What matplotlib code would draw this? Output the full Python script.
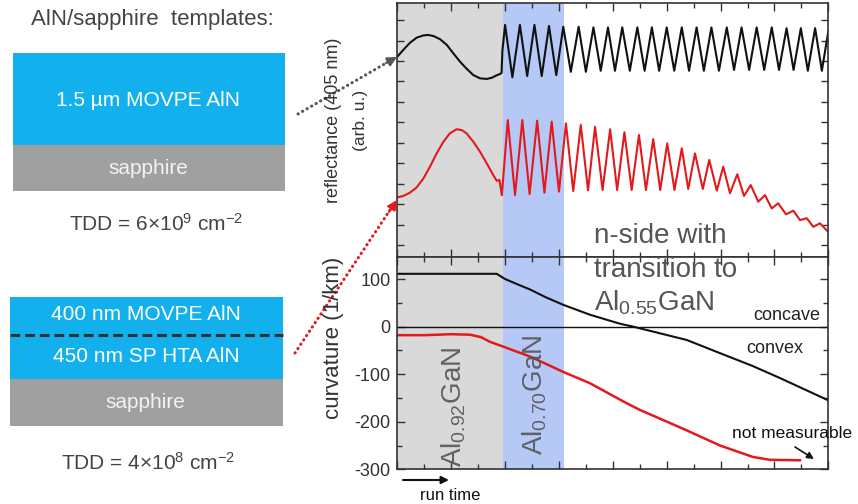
import matplotlib.pyplot as plt
from matplotlib.ticker import MultipleLocator
from matplotlib.patches import Rectangle

plt.rcParams['font.family'] = ['Liberation Sans', 'DejaVu Sans']
plt.rcParams['mathtext.fontset'] = 'custom'
plt.rcParams['mathtext.rm'] = 'Liberation Sans'
plt.rcParams['mathtext.it'] = 'Liberation Sans:italic'
plt.rcParams['mathtext.bf'] = 'Liberation Sans:bold'
plt.rcParams['axes.unicode_minus'] = False

# --- reflectance (405 nm), arb. u., x = run time (arb.) ---
# black: 1.5 um MOVPE AlN template
blk_start_x = [0, 0.22, 0.47, 0.72, 0.97, 1.15, 1.34, 1.59, 1.84, 2.08, 2.33, 2.58,
               2.82, 3.07, 3.32, 3.51, 3.69, 3.81, 3.87, 3.90]
blk_start_y = [9.21, 9.54, 9.89, 10.14, 10.25, 10.27, 10.22, 10.06, 9.78, 9.37, 8.96, 8.61,
               8.31, 8.15, 8.12, 8.18, 8.30, 8.36, 8.42, 9.50]
blk_peak_x = [4.00, 4.55, 5.09, 5.63, 6.16, 6.73, 7.28, 7.82, 8.35, 8.91, 9.45, 10.00,
              10.56, 11.11, 11.66, 12.23, 12.78, 13.34, 13.90, 14.45, 14.98, 15.51, 16.0]
blk_peak_y = [10.76, 10.76, 10.76, 10.71, 10.67, 10.67, 10.64, 10.64, 10.64, 10.64, 10.64, 10.64,
              10.64, 10.64, 10.64, 10.64, 10.64, 10.64, 10.64, 10.60, 10.60, 10.60, 10.45]
blk_trough_x = [4.27, 4.82, 5.36, 5.90, 6.44, 7.00, 7.55, 8.08, 8.63, 9.18, 9.72, 10.28,
                10.83, 11.38, 11.94, 12.50, 13.06, 13.62, 14.17, 14.71, 15.24, 15.76]
blk_trough_y = [8.20, 8.26, 8.26, 8.31, 8.47, 8.47, 8.52, 8.52, 8.52, 8.52, 8.52, 8.52,
                8.52, 8.52, 8.52, 8.56, 8.56, 8.56, 8.56, 8.56, 8.52, 8.52]

# red: 400 nm MOVPE AlN on 450 nm SP HTA AlN template
red_start_x = [0, 0.22, 0.47, 0.72, 0.97, 1.21, 1.46, 1.71, 1.95, 2.20, 2.39, 2.57,
               2.82, 3.07, 3.32, 3.56, 3.69, 3.79, 3.85, 3.88]
red_start_y = [2.33, 2.40, 2.56, 2.82, 3.26, 3.83, 4.48, 5.05, 5.46, 5.66, 5.62, 5.46,
               5.05, 4.56, 3.99, 3.42, 3.14, 3.18, 2.69, 2.44]
red_peak_x = [4.10, 4.64, 5.19, 5.73, 6.26, 6.81, 7.34, 7.90, 8.43, 8.97, 9.50, 10.02,
              10.56, 11.05, 11.58, 12.10, 12.62, 13.12, 13.65, 14.14, 14.70, 15.20, 15.69]
red_peak_y = [6.11, 6.11, 6.08, 6.03, 5.95, 5.87, 5.78, 5.66, 5.51, 5.38, 5.18, 4.97,
              4.73, 4.48, 4.16, 3.83, 3.46, 2.93, 2.44, 2.04, 1.68, 1.31, 1.06]
red_trough_x = [4.37, 4.91, 5.46, 6.00, 6.53, 7.08, 7.62, 8.16, 8.70, 9.23, 9.76, 10.29,
                10.80, 11.34, 11.86, 12.35, 12.87, 13.40, 13.90, 14.43, 14.95, 15.44, 16.0]
red_trough_y = [2.44, 2.49, 2.56, 2.61, 2.64, 2.67, 2.69, 2.69, 2.69, 2.69, 2.69, 2.69,
                2.74, 2.74, 2.66, 2.53, 2.40, 2.12, 1.79, 1.50, 1.22, 0.89, 0.64]

# --- curvature (1/km) ---
curv_blk_x = [0, 3.69, 4.0, 4.5, 4.93, 5.5, 6.15, 7.15, 8.27, 8.75, 10.74, 11.72, 13.2, 14.2, 16.0]
curv_blk_y = [111, 111, 100, 88, 78, 62, 46, 25, 6, 0, -28, -50, -83, -108, -155]
curv_red_x = [0, 1.0, 2.0, 2.7, 3.1, 3.44, 3.93, 4.93, 6.15, 7.15, 8.38, 9.0,
              10.74, 11.98, 13.2, 13.83, 14.95]
curv_red_y = [-18, -18, -16, -17, -22, -32, -42, -63, -95, -119, -157, -175,
              -218, -250, -274, -280, -281]

# growth phases (run time)
phase_gray = (0, 3.92)
phase_blue = (3.92, 6.2)

BLUE = '#12b0ec'
SAPH = '#a0a0a0'
TXT = '#444444'
RED = '#e3191c'


def merge(sx, sy, px, py, tx, ty):
    pts = sorted(zip(px + tx, py + ty))
    return sx + [p[0] for p in pts], sy + [p[1] for p in pts]


fig = plt.figure(figsize=(8.58, 5.04), dpi=100)

# schematic of templates (pixel coordinates)
bg = fig.add_axes([0, 0, 1, 1])
bg.set_xlim(0, 858)
bg.set_ylim(504, 0)
bg.axis('off')
bg.add_patch(Rectangle((13, 53), 272, 92, fc=BLUE, ec='none'))
bg.add_patch(Rectangle((13, 145), 272, 46, fc=SAPH, ec='none'))
bg.add_patch(Rectangle((10, 297), 273, 82, fc=BLUE, ec='none'))
bg.add_patch(Rectangle((10, 379), 273, 47, fc=SAPH, ec='none'))
bg.plot([10, 283], [335, 335], color='#333333', lw=2.2, dashes=(3.2, 1.6))
bg.text(152, 20, 'AlN/sapphire  templates:', fontsize=16, color=TXT, ha='center', va='center')
bg.text(148, 100, '1.5 µm MOVPE AlN', fontsize=15, color='white', ha='center', va='center')
bg.text(148, 168, 'sapphire', fontsize=15, color='#f2f2f2', ha='center', va='center')
bg.text(156, 224, r'TDD = 6$\times$10$^{9}$ cm$^{-2}$', fontsize=15, color=TXT,
        ha='center', va='center')
bg.text(146, 315, '400 nm MOVPE AlN', fontsize=15, color='white', ha='center', va='center')
bg.text(146, 356, '450 nm SP HTA AlN', fontsize=15, color='white', ha='center', va='center')
bg.text(145, 403, 'sapphire', fontsize=15, color='#f2f2f2', ha='center', va='center')
bg.text(148, 463, r'TDD = 4$\times$10$^{8}$ cm$^{-2}$', fontsize=15, color=TXT,
        ha='center', va='center')

# reflectance panel
ax1 = fig.add_axes([0.4631, 0.4907, 0.5023, 0.5028])
# curvature panel
ax2 = fig.add_axes([0.4631, 0.0688, 0.5023, 0.4219])

for ax in (ax1, ax2):
    ax.axvspan(*phase_gray, color='#d9d9d9', lw=0, zorder=0)
    ax.axvspan(*phase_blue, color='#b5c8f6', lw=0, zorder=0)
    ax.set_xlim(0, 16)
    ax.xaxis.set_major_locator(MultipleLocator(2))
    ax.xaxis.set_minor_locator(MultipleLocator(1))
    ax.tick_params(which='both', direction='in', top=True, right=True,
                   color='#333333', width=1, labelbottom=False)
    ax.tick_params(which='major', length=6)
    ax.tick_params(which='minor', length=3.5)
    for s in ax.spines.values():
        s.set_color('#333333')
        s.set_linewidth(1.2)

bx, by = merge(blk_start_x, blk_start_y, blk_peak_x, blk_peak_y, blk_trough_x, blk_trough_y)
rx, ry = merge(red_start_x, red_start_y, red_peak_x, red_peak_y, red_trough_x, red_trough_y)
ax1.plot(bx, by, color='#111111', lw=1.5, solid_joinstyle='round')
ax1.plot(rx, ry, color=RED, lw=1.5, solid_joinstyle='round')
ax1.set_ylim(-0.57, 11.82)
ax1.yaxis.set_major_locator(MultipleLocator(1))
ax1.tick_params(which='major', axis='y', length=5)
ax1.tick_params(labelleft=False)

ax2.axhline(0, color='#111111', lw=1)
ax2.plot(curv_blk_x, curv_blk_y, color='#111111', lw=1.5)
ax2.plot(curv_red_x, curv_red_y, color=RED, lw=1.8)
ax2.set_ylim(-300, 147)
ax2.yaxis.set_major_locator(MultipleLocator(100))
ax2.yaxis.set_minor_locator(MultipleLocator(50))
ax2.tick_params(axis='y', labelsize=13, labelcolor='#333333', pad=5)
ax2.text(15.7, 23, 'concave', fontsize=13, color='#222222', ha='right', va='center')
ax2.text(12.95, -45, 'convex', fontsize=13, color='#222222', ha='left', va='center')

# annotations on top (pixel coordinates)
ov = fig.add_axes([0, 0, 1, 1], zorder=10)
ov.set_xlim(0, 858)
ov.set_ylim(504, 0)
ov.axis('off')

ov.text(333, 120, 'reflectance (405 nm)', rotation=90, fontsize=13, color='#333333',
        ha='center', va='center')
ov.text(361, 120, '(arb. u.)', rotation=90, fontsize=12.5, color='#333333',
        ha='center', va='center')
ov.text(333, 338, 'curvature (1/km)', rotation=90, fontsize=16, color='#333333',
        ha='center', va='center')

ov.plot([298, 388], [114, 62], color='#555555', lw=2.2, dashes=(0.1, 1.6),
        dash_capstyle='round')
ov.annotate('', xy=(397, 57), xytext=(386, 63),
            arrowprops=dict(arrowstyle='-|>', color='#555555', lw=1.5,
                            mutation_scale=14, shrinkA=0, shrinkB=0))
ov.plot([295, 390], [353, 210], color=RED, lw=2.2, dashes=(0.1, 1.6),
        dash_capstyle='round')
ov.annotate('', xy=(397, 200), xytext=(389, 212),
            arrowprops=dict(arrowstyle='-|>', color=RED, lw=1.5,
                            mutation_scale=14, shrinkA=0, shrinkB=0))

ov.text(594, 236, 'n-side with', fontsize=20, color='#555555', ha='left', va='center')
ov.text(594, 270, 'transition to', fontsize=20, color='#555555', ha='left', va='center')
ov.text(594, 303, r'Al$_{0.55}$GaN', fontsize=20, color='#555555', ha='left', va='center')

ov.text(454, 407, r'Al$_{0.92}$GaN', rotation=90, fontsize=20, color='#555555', alpha=0.9,
        ha='center', va='center')
ov.text(535, 395, r'Al$_{0.70}$GaN', rotation=90, fontsize=20, color='#555555', alpha=0.9,
        ha='center', va='center')

ov.text(792, 433, 'not measurable', fontsize=12.5, color='#111111', ha='center', va='center')
ov.annotate('', xy=(814, 459), xytext=(795, 447),
            arrowprops=dict(arrowstyle='-|>', color='#111111', lw=1.2,
                            mutation_scale=10, shrinkA=0, shrinkB=0))
ov.annotate('', xy=(449, 480), xytext=(403, 480),
            arrowprops=dict(arrowstyle='-|>', color='#111111', lw=1.5,
                            mutation_scale=11, shrinkA=0, shrinkB=0))
ov.text(450, 495, 'run time', fontsize=12, color='#111111', ha='center', va='center')

fig.savefig('out.png', dpi=100)
